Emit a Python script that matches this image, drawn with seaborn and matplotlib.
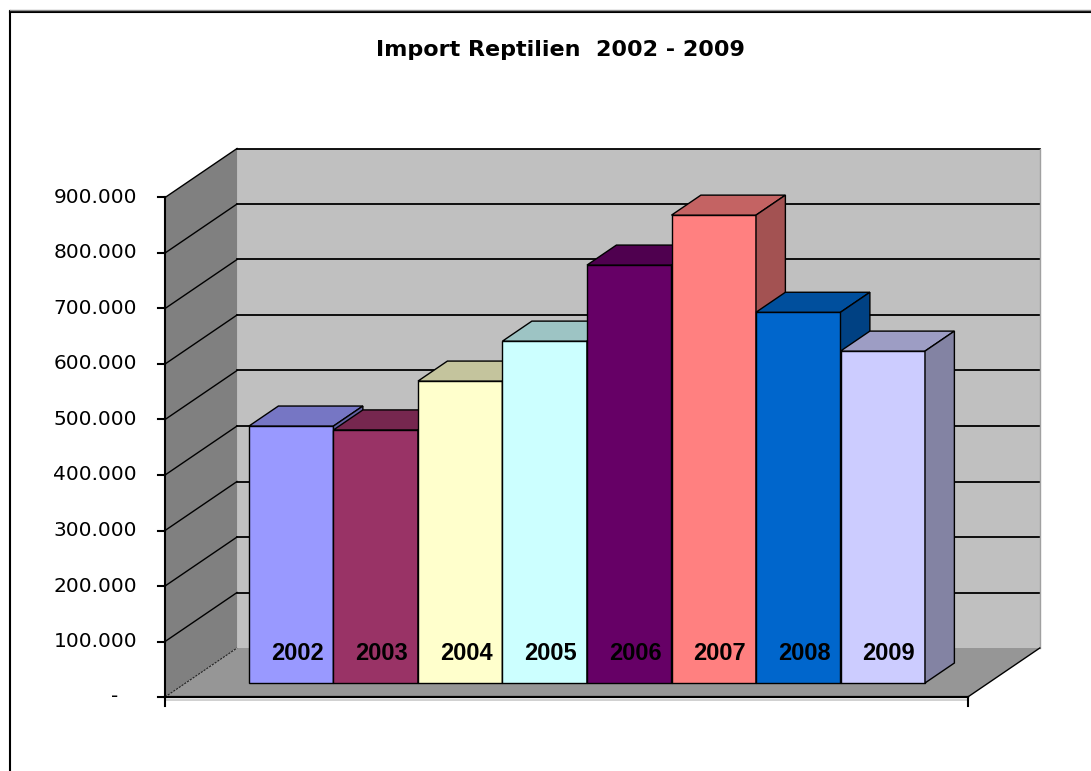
import matplotlib
matplotlib.use("Agg")
import matplotlib.pyplot as plt
import matplotlib.colors as mcolors
from matplotlib.patches import Polygon
from matplotlib.lines import Line2D
import seaborn as sns

# Data
years = ["2002", "2003", "2004", "2005", "2006", "2007", "2008", "2009"]
imports = [463000, 456000, 544000, 616000, 753000, 843000, 668000, 598000]
bar_colors = ["#9999FF", "#993366", "#FFFFCC", "#CCFFFF",
              "#660066", "#FF8080", "#0066CC", "#CCCCFF"]
tick_values = [0, 100000, 200000, 300000, 400000, 500000,
               600000, 700000, 800000, 900000]
tick_labels = ["-   ", "100.000", "200.000", "300.000", "400.000", "500.000",
               "600.000", "700.000", "800.000", "900.000"]
title = "Import Reptilien  2002 - 2009"

W, H, DPI = 1091, 771, 100
fig = plt.figure(figsize=(W / DPI, H / DPI), dpi=DPI)
ax = fig.add_axes([0, 0, 1, 1])

# front faces of the bars
sns.barplot(x=years, y=imports, hue=years, palette=bar_colors, saturation=1,
            width=1.0, edgecolor="black", linewidth=1.0, legend=False, ax=ax)

# pixel layout of the bar front plane
cat_px = 84.5               # px per category
val_px = 55.5 / 100000      # px per value unit
left_px, base_px = 249, 88
ax.set_xlim(-0.5 - left_px / cat_px, -0.5 + (W - left_px) / cat_px)
ax.set_ylim(-base_px / val_px, (H - base_px) / val_px)
ax.axis("off")

# oblique depth direction (full depth = 72 px right, 49 px up)
DX = 72 / cat_px
DY = 49 / val_px
z_front, z_bar, z_back = -14 / 49, 20 / 49, 35 / 49
x_lo, x_hi = -1.25, len(years) - 0.5 + 0.75
vmax = tick_values[-1]


def P(x, y, z):
    return (x + z * DX, y + z * DY)


def shade(c, f):
    return tuple(f * v for v in mcolors.to_rgb(c))


def seg(p, q, **kw):
    ax.add_line(Line2D([p[0], q[0]], [p[1], q[1]], **kw))


# walls and floor
ax.add_patch(Polygon([P(x_lo, 0, z_back), P(x_hi, 0, z_back),
                      P(x_hi, vmax, z_back), P(x_lo, vmax, z_back)],
                     fc="#C0C0C0", ec="none", zorder=1))
ax.add_patch(Polygon([P(x_lo, 0, z_front), P(x_lo, 0, z_back),
                      P(x_lo, vmax, z_back), P(x_lo, vmax, z_front)],
                     fc="#808080", ec="none", zorder=1))
ax.add_patch(Polygon([P(x_lo, 0, z_front), P(x_hi, 0, z_front),
                      P(x_hi, 0, z_back), P(x_lo, 0, z_back)],
                     fc="#969696", ec="none", zorder=2))

for v in tick_values[1:]:
    seg(P(x_lo, v, z_back), P(x_hi, v, z_back), color="black", lw=1.3, zorder=1.5)
    seg(P(x_lo, v, z_front), P(x_lo, v, z_back), color="black", lw=1.0, zorder=1.5)
seg(P(x_lo, 0, z_front), P(x_lo, 0, z_back), color="#202020", lw=0.8,
    ls=(0, (2, 1)), zorder=3)
seg(P(x_hi, 0, z_back), P(x_hi, vmax, z_back), color="#A0A0A0", lw=1.0, zorder=1.5)

# 3D bars: top and side faces
for i, (patch, v, c) in enumerate(zip(ax.patches, imports, bar_colors)):
    patch.set_zorder(10 + i)
    ax.add_patch(Polygon([P(i - 0.5, v, 0), P(i + 0.5, v, 0),
                          P(i + 0.5, v, z_bar), P(i - 0.5, v, z_bar)],
                         fc=shade(c, 0.77), ec="black", lw=1.0, zorder=10 + i))
    ax.add_patch(Polygon([P(i + 0.5, 0, 0), P(i + 0.5, 0, z_bar),
                          P(i + 0.5, v, z_bar), P(i + 0.5, v, 0)],
                         fc=shade(c, 0.64), ec="black", lw=1.0, zorder=10 + i))
    ax.text(i + 0.07, 54000, years[i], ha="center", va="center",
            fontsize=17, fontweight="bold",
            family=["Liberation Sans", "DejaVu Sans"], zorder=30)

# value axis on the front edge of the left wall
seg(P(x_lo, 0, z_front), P(x_lo, vmax, z_front), color="black", lw=1.5, zorder=25)
tick_dx = 7 / cat_px
lab_dx = 28 / cat_px
for v, lab in zip(tick_values, tick_labels):
    px, py = P(x_lo, v, z_front)
    seg((px - tick_dx, py), (px, py), color="black", lw=1.5, zorder=25)
    ax.text(px - lab_dx, py, lab, ha="right", va="center", fontsize=14.5,
            family="DejaVu Sans", zorder=25)

# floor front edge and category axis
drop = 9 / val_px
f0 = P(x_lo, 0, z_front)
f1 = P(x_hi, 0, z_front)
seg((f0[0], f0[1] - 2.5 / val_px), (f1[0], f1[1] - 2.5 / val_px),
    color="#C8C8C8", lw=1.2, zorder=24)
seg(f0, f1, color="black", lw=1.6, zorder=25)
seg(f1, P(x_hi, 0, z_back), color="black", lw=1.0, zorder=25)
seg(f0, (f0[0], f0[1] - drop), color="black", lw=1.5, zorder=25)
seg(f1, (f1[0], f1[1] - drop), color="black", lw=1.5, zorder=25)

# title
fig.text(560 / W, 1 - 50 / H, title, ha="center", va="center",
         fontsize=16, fontweight="bold", family="DejaVu Sans")

# chart area border (left and top)
fig.add_artist(Line2D([9.5 / W, 9.5 / W], [0, 1 - 11 / H],
                      transform=fig.transFigure, color="black", lw=1.5))
fig.add_artist(Line2D([9.5 / W, 1], [1 - 11.5 / H, 1 - 11.5 / H],
                      transform=fig.transFigure, color="black", lw=1.5))
fig.add_artist(Line2D([9.5 / W, 1], [1 - 10 / H, 1 - 10 / H],
                      transform=fig.transFigure, color="#909090", lw=1.0))

fig.savefig("out.png", dpi=DPI)
